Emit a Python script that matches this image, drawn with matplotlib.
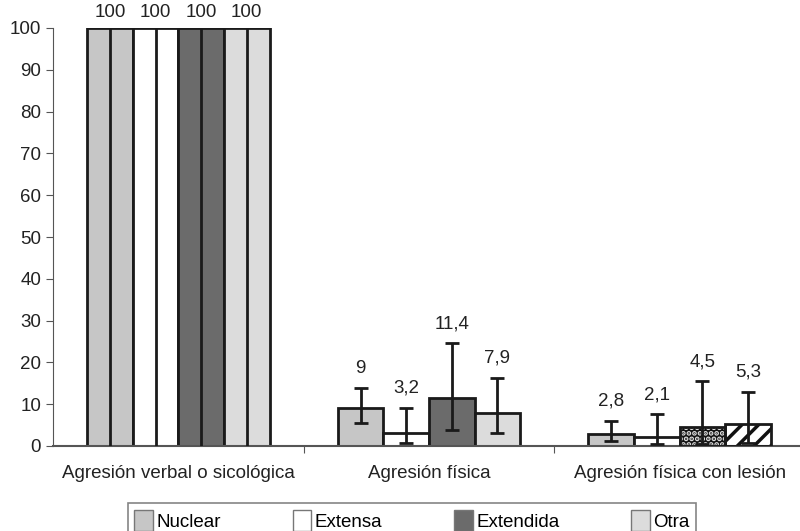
import matplotlib
matplotlib.use("Agg")
import matplotlib.pyplot as plt
import numpy as np
from matplotlib.patches import Patch

categories = ["Agresión verbal o sicológica", "Agresión física", "Agresión física con lesión"]
series = ["Nuclear", "Extensa", "Extendida", "Otra"]
values = {
    "Nuclear":   [100, 9, 2.8],
    "Extensa":   [100, 3.2, 2.1],
    "Extendida": [100, 11.4, 4.5],
    "Otra":      [100, 7.9, 5.3],
}
err_low = {
    "Nuclear":   [0, 5.5, 1.2],
    "Extensa":   [0, 0.7, 0.5],
    "Extendida": [0, 3.8, 0.5],
    "Otra":      [0, 3.1, 0.8],
}
err_high = {
    "Nuclear":   [100, 13.9, 6.0],
    "Extensa":   [100, 9.1, 7.6],
    "Extendida": [100, 24.6, 15.5],
    "Otra":      [100, 16.3, 12.9],
}
labels = {
    "Nuclear":   ["100", "9", "2,8"],
    "Extensa":   ["100", "3,2", "2,1"],
    "Extendida": ["100", "11,4", "4,5"],
    "Otra":      ["100", "7,9", "5,3"],
}
colors = {"Nuclear": "#c6c6c6", "Extensa": "#ffffff", "Extendida": "#6b6b6b", "Otra": "#dcdcdc"}

plt.rcParams['font.family'] = ['Liberation Sans', 'DejaVu Sans']
plt.rcParams['hatch.linewidth'] = 2.5

FS = 13.5
fig = plt.figure(figsize=(8, 5.31), dpi=100)
ax = fig.add_axes([53/800, 85/531, 752/800, 418/531])

x = np.arange(len(categories))
w = 0.182
edge = "#1a1a1a"
for i, s in enumerate(series):
    xs = x + (i - 1.5) * w
    vals = np.array(values[s], dtype=float)
    for j in range(len(categories)):
        fc = colors[s]
        if j == 2 and s == "Extendida":
            ax.bar(xs[j], vals[j], w, color="#111111", edgecolor="#dddddd", hatch="...", linewidth=0, zorder=2)
            ax.bar(xs[j], vals[j], w, fill=False, edgecolor=edge, linewidth=2, zorder=3)
        elif j == 2 and s == "Otra":
            ax.bar(xs[j], vals[j], w, color="white", edgecolor="#111111", hatch="//", linewidth=0, zorder=2)
            ax.bar(xs[j], vals[j], w, fill=False, edgecolor=edge, linewidth=2, zorder=3)
        else:
            ax.bar(xs[j], vals[j], w, color=fc, edgecolor=edge, linewidth=2, zorder=2)
    lo = vals - np.array(err_low[s])
    hi = np.array(err_high[s]) - vals
    # first group: full-height line, no caps
    ax.errorbar(xs[:1], vals[:1], yerr=[lo[:1], hi[:1]], fmt="none", ecolor=edge,
                elinewidth=2, capsize=0, zorder=4)
    ax.errorbar(xs[1:], vals[1:], yerr=[lo[1:], hi[1:]], fmt="none", ecolor=edge,
                elinewidth=2, capsize=5, capthick=2, zorder=4)
    for j in range(len(categories)):
        off = 5 if j == 0 else 8
        ax.annotate(labels[s][j], (xs[j], err_high[s][j]), xytext=(0, off),
                    textcoords="offset points", ha="center", va="bottom",
                    fontsize=FS, color="#222222", annotation_clip=False)

ax.set_xlim(-0.5, 2.5)
ax.set_ylim(0, 100)
ax.set_yticks(np.arange(0, 101, 10))
ax.set_xticks([0.5, 1.5])
ax.set_xticklabels([])
ax.tick_params(axis='x', length=5, color="#555555", direction="out")
ax.tick_params(axis='y', length=5, color="#555555", labelsize=FS, labelcolor="#222222")
for j, c in enumerate(categories):
    ax.text(x[j], -4.5, c, ha="center", va="top", fontsize=FS, color="#222222",
            transform=ax.transData)
ax.spines['top'].set_visible(False)
ax.spines['right'].set_visible(False)
ax.spines['left'].set_color("#555555")
ax.spines['bottom'].set_color("#555555")
ax.spines['bottom'].set_linewidth(1.5)

handles = [Patch(facecolor=colors[s], edgecolor="#777777", linewidth=1) for s in series]
leg = fig.legend(handles, series, loc="upper center", bbox_to_anchor=(0.515, 28/531),
                 ncol=4, frameon=True, fancybox=False, edgecolor="#666666",
                 fontsize=FS, handlelength=1.0, handleheight=1.4, handletextpad=0.2,
                 columnspacing=3.8, borderpad=0.35, borderaxespad=0)
leg.get_frame().set_linewidth(1.2)

fig.savefig("out.png", dpi=100)
